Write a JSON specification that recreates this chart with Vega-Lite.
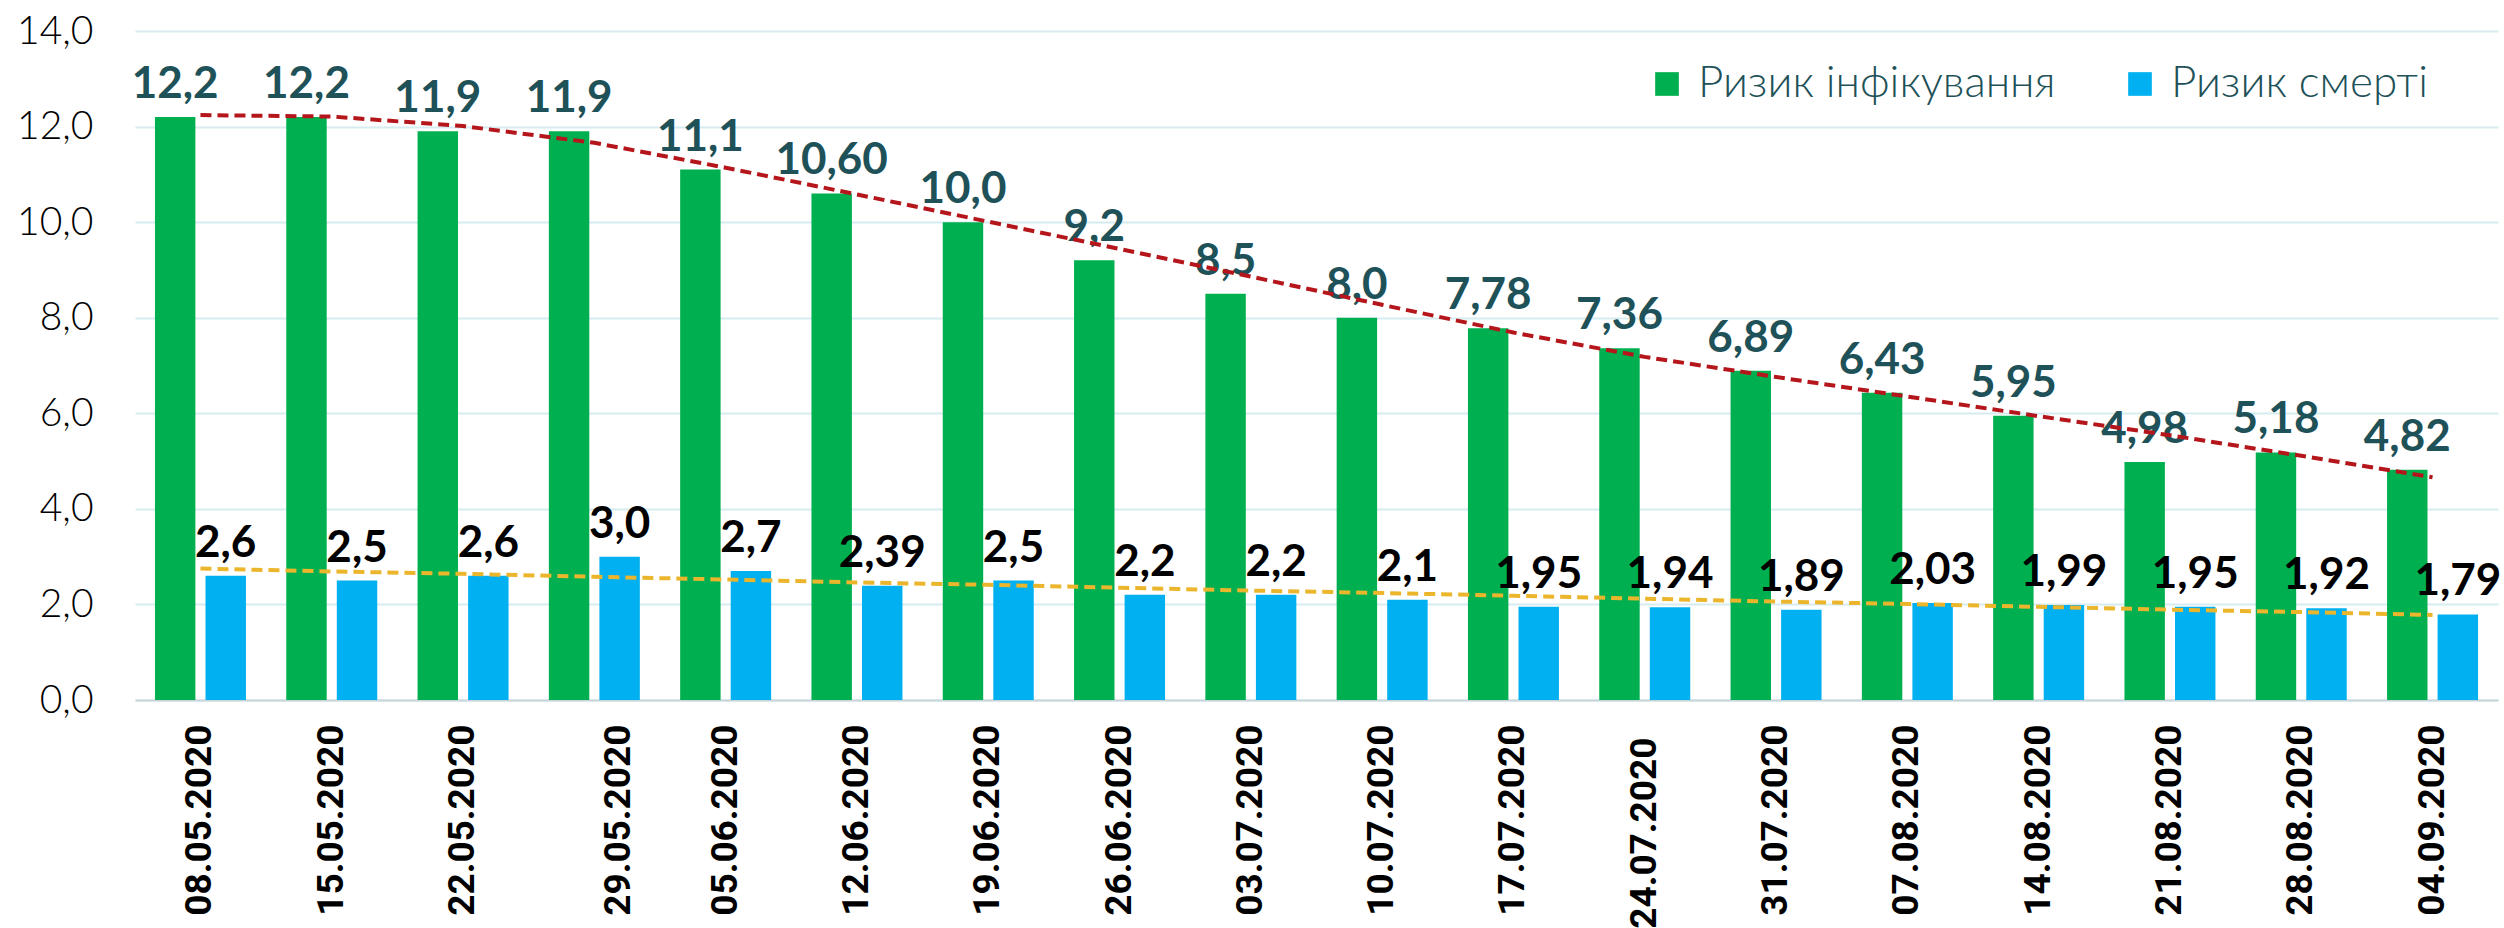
{
  "$schema": "https://vega.github.io/schema/vega-lite/v6.json",
  "autosize": "none",
  "width": 2363,
  "height": 669,
  "padding": {"left": 135, "top": 31, "right": 6, "bottom": 228},
  "background": "white",
  "config": {"view": {"stroke": null}},
  "datasets": {
    "bars": [
      {"date": "08.05.2020", "series": "Ризик інфікування", "value": 12.2, "label": "12,2"},
      {"date": "08.05.2020", "series": "Ризик смерті", "value": 2.6, "label": "2,6"},
      {"date": "15.05.2020", "series": "Ризик інфікування", "value": 12.2, "label": "12,2"},
      {"date": "15.05.2020", "series": "Ризик смерті", "value": 2.5, "label": "2,5"},
      {"date": "22.05.2020", "series": "Ризик інфікування", "value": 11.9, "label": "11,9"},
      {"date": "22.05.2020", "series": "Ризик смерті", "value": 2.6, "label": "2,6"},
      {"date": "29.05.2020", "series": "Ризик інфікування", "value": 11.9, "label": "11,9"},
      {"date": "29.05.2020", "series": "Ризик смерті", "value": 3.0, "label": "3,0"},
      {"date": "05.06.2020", "series": "Ризик інфікування", "value": 11.1, "label": "11,1"},
      {"date": "05.06.2020", "series": "Ризик смерті", "value": 2.7, "label": "2,7"},
      {"date": "12.06.2020", "series": "Ризик інфікування", "value": 10.6, "label": "10,60"},
      {"date": "12.06.2020", "series": "Ризик смерті", "value": 2.39, "label": "2,39"},
      {"date": "19.06.2020", "series": "Ризик інфікування", "value": 10.0, "label": "10,0"},
      {"date": "19.06.2020", "series": "Ризик смерті", "value": 2.5, "label": "2,5"},
      {"date": "26.06.2020", "series": "Ризик інфікування", "value": 9.2, "label": "9,2"},
      {"date": "26.06.2020", "series": "Ризик смерті", "value": 2.2, "label": "2,2"},
      {"date": "03.07.2020", "series": "Ризик інфікування", "value": 8.5, "label": "8,5"},
      {"date": "03.07.2020", "series": "Ризик смерті", "value": 2.2, "label": "2,2"},
      {"date": "10.07.2020", "series": "Ризик інфікування", "value": 8.0, "label": "8,0"},
      {"date": "10.07.2020", "series": "Ризик смерті", "value": 2.1, "label": "2,1"},
      {"date": "17.07.2020", "series": "Ризик інфікування", "value": 7.78, "label": "7,78"},
      {"date": "17.07.2020", "series": "Ризик смерті", "value": 1.95, "label": "1,95"},
      {"date": "24.07.2020", "series": "Ризик інфікування", "value": 7.36, "label": "7,36"},
      {"date": "24.07.2020", "series": "Ризик смерті", "value": 1.94, "label": "1,94"},
      {"date": "31.07.2020", "series": "Ризик інфікування", "value": 6.89, "label": "6,89"},
      {"date": "31.07.2020", "series": "Ризик смерті", "value": 1.89, "label": "1,89"},
      {"date": "07.08.2020", "series": "Ризик інфікування", "value": 6.43, "label": "6,43"},
      {"date": "07.08.2020", "series": "Ризик смерті", "value": 2.03, "label": "2,03"},
      {"date": "14.08.2020", "series": "Ризик інфікування", "value": 5.95, "label": "5,95"},
      {"date": "14.08.2020", "series": "Ризик смерті", "value": 1.99, "label": "1,99"},
      {"date": "21.08.2020", "series": "Ризик інфікування", "value": 4.98, "label": "4,98"},
      {"date": "21.08.2020", "series": "Ризик смерті", "value": 1.95, "label": "1,95"},
      {"date": "28.08.2020", "series": "Ризик інфікування", "value": 5.18, "label": "5,18"},
      {"date": "28.08.2020", "series": "Ризик смерті", "value": 1.92, "label": "1,92"},
      {"date": "04.09.2020", "series": "Ризик інфікування", "value": 4.82, "label": "4,82"},
      {"date": "04.09.2020", "series": "Ризик смерті", "value": 1.79, "label": "1,79"}
    ],
    "trend": [
      {"date": "08.05.2020", "inf_trend": 12.24, "death_trend": 2.75},
      {"date": "15.05.2020", "inf_trend": 12.21, "death_trend": 2.69},
      {"date": "22.05.2020", "inf_trend": 12.01, "death_trend": 2.64},
      {"date": "29.05.2020", "inf_trend": 11.66, "death_trend": 2.58},
      {"date": "05.06.2020", "inf_trend": 11.14, "death_trend": 2.52},
      {"date": "12.06.2020", "inf_trend": 10.58, "death_trend": 2.46},
      {"date": "19.06.2020", "inf_trend": 10.01, "death_trend": 2.41},
      {"date": "26.06.2020", "inf_trend": 9.44, "death_trend": 2.35},
      {"date": "03.07.2020", "inf_trend": 8.86, "death_trend": 2.29},
      {"date": "10.07.2020", "inf_trend": 8.27, "death_trend": 2.24},
      {"date": "17.07.2020", "inf_trend": 7.69, "death_trend": 2.18},
      {"date": "24.07.2020", "inf_trend": 7.18, "death_trend": 2.12},
      {"date": "31.07.2020", "inf_trend": 6.76, "death_trend": 2.06},
      {"date": "07.08.2020", "inf_trend": 6.35, "death_trend": 2.01},
      {"date": "14.08.2020", "inf_trend": 5.94, "death_trend": 1.95},
      {"date": "21.08.2020", "inf_trend": 5.54, "death_trend": 1.89},
      {"date": "28.08.2020", "inf_trend": 5.11, "death_trend": 1.84},
      {"date": "04.09.2020", "inf_trend": 4.66, "death_trend": 1.78}
    ]
  },
  "encoding": {
    "x": {
      "field": "date",
      "type": "nominal",
      "sort": null,
      "scale": {"paddingInner": 0.307, "paddingOuter": 0.152},
      "axis": {
        "title": null,
        "labelAngle": -90,
        "labelFont": "Roboto",
        "labelFontWeight": "bold",
        "labelFontSize": 37,
        "labelColor": "black",
        "labelLimit": 400,
        "labelPadding": {"condition": {"test": "datum.value === '24.07.2020'", "value": 37}, "value": 24},
        "labelOffset": {"condition": {"test": "datum.value === '29.05.2020'", "value": 25}, "value": 0},
        "ticks": false,
        "domain": true,
        "domainColor": "#C8D6DA",
        "domainWidth": 2,
        "grid": false
      }
    }
  },
  "layer": [
    {
      "data": {"name": "bars"},
      "mark": {"type": "bar"},
      "encoding": {
        "xOffset": {"field": "series", "type": "nominal", "sort": ["Ризик інфікування", "Ризик смерті"], "scale": {"paddingInner": 0.2, "paddingOuter": 0}},
        "y": {
          "field": "value",
          "type": "quantitative",
          "scale": {"domain": [0, 14], "nice": false},
          "axis": {
            "title": null,
            "values": [0, 2, 4, 6, 8, 10, 12, 14],
            "labelExpr": "replace(format(datum.value, '.1f'), '.', ',')",
            "labelFont": "Lato",
            "labelFontWeight": 300,
            "labelFontSize": 39,
            "labelColor": "black",
            "labelPadding": 42,
            "ticks": false,
            "domain": false,
            "grid": true,
            "gridColor": "#D6ECF1",
            "gridWidth": 2
          }
        },
        "color": {
          "field": "series",
          "type": "nominal",
          "scale": {"domain": ["Ризик інфікування", "Ризик смерті"], "range": ["#00B050", "#00B0F0"]},
          "legend": {
            "orient": "none",
            "legendX": 1510,
            "legendY": 31,
            "direction": "horizontal",
            "title": null,
            "symbolType": "square",
            "symbolSize": 560,
            "symbolStrokeWidth": 0,
            "labelFont": "Lato",
            "labelFontWeight": 300,
            "labelFontSize": 44,
            "labelColor": "#1E5158",
            "labelOffset": 9,
            "columnPadding": 62,
            "labelLimit": 600
          }
        }
      }
    },
    {
      "data": {"name": "bars"},
      "mark": {"type": "text", "font": "Lato", "fontWeight": "bold", "fontSize": 44, "baseline": "alphabetic", "dy": -19},
      "encoding": {
        "xOffset": {"field": "series", "type": "nominal", "sort": ["Ризик інфікування", "Ризик смерті"]},
        "y": {"field": "value", "type": "quantitative"},
        "text": {"field": "label"},
        "color": {"condition": {"test": "datum.series === 'Ризик смерті'", "value": "#000000"}, "value": "#1E5158"}
      }
    },
    {
      "data": {"name": "trend"},
      "mark": {"type": "line", "color": "#B5161B", "strokeWidth": 4, "strokeDash": [11, 6]},
      "encoding": {
        "y": {"field": "inf_trend", "type": "quantitative"}
      }
    },
    {
      "data": {"name": "trend"},
      "mark": {"type": "line", "color": "#EBB52C", "strokeWidth": 4, "strokeDash": [11, 6]},
      "encoding": {
        "y": {"field": "death_trend", "type": "quantitative"}
      }
    }
  ]
}
